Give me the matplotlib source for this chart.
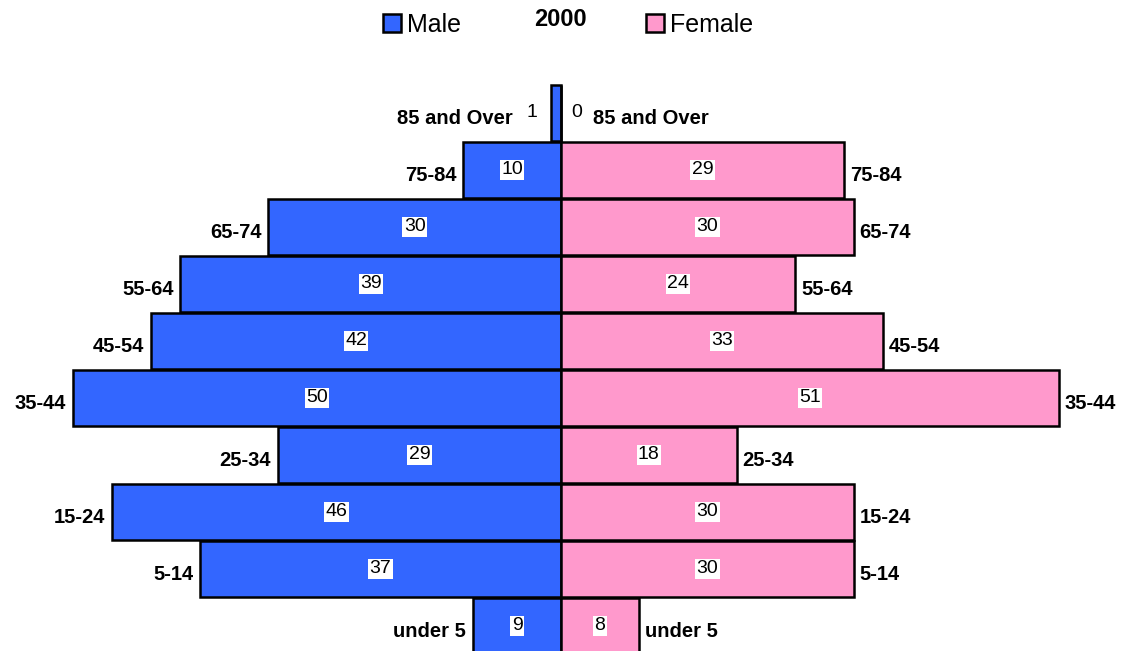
import numpy as np
import matplotlib.pyplot as plt

# age groups, top row first
ages = ['85 and Over', '75-84', '65-74', '55-64', '45-54',
        '35-44', '25-34', '15-24', '5-14', 'under 5']
male = [1, 10, 30, 39, 42, 50, 29, 46, 37, 9]
female = [0, 29, 30, 24, 33, 51, 18, 30, 30, 8]
year = '2000'

plt.rcParams['font.family'] = ['Liberation Sans', 'DejaVu Sans']

fig = plt.figure(figsize=(11.27, 6.51), dpi=100)
ax = fig.add_axes([0, 0, 1, 1])

y = np.arange(len(ages))
bm = ax.barh(y, [-v for v in male], height=0.97, color='#3366FF',
             edgecolor='black', linewidth=1.8, label='Male')
bf = ax.barh(y, female, height=0.97, color='#FF99CC',
             edgecolor='black', linewidth=1.8, label='Female')

box = dict(facecolor='white', edgecolor='none', pad=1.0)
vfs = 14
cfs = 14.5
for i in range(len(ages)):
    m, f = male[i], female[i]
    # male side
    if m >= 4:
        ax.text(-m / 2, i, str(m), ha='center', va='center', fontsize=vfs, bbox=box)
        ax.text(-m - 0.7, i + 0.09, ages[i], ha='right', va='center',
                fontsize=cfs, fontweight='bold')
    else:
        ax.text(-m - 2.0, i, str(m), ha='center', va='center', fontsize=vfs)
        ax.text(-m - 3.9, i + 0.09, ages[i], ha='right', va='center',
                fontsize=cfs, fontweight='bold')
    # female side
    if f >= 4:
        ax.text(f / 2, i, str(f), ha='center', va='center', fontsize=vfs, bbox=box)
        ax.text(f + 0.6, i + 0.09, ages[i], ha='left', va='center',
                fontsize=cfs, fontweight='bold')
    else:
        ax.text(f + 1.6, i, str(f), ha='center', va='center', fontsize=vfs)
        ax.text(f + 3.3, i + 0.09, ages[i], ha='left', va='center',
                fontsize=cfs, fontweight='bold')

ax.set_xlim(-57.48, 57.99)
ax.set_ylim(9.44, -1.98)
ax.axis('off')

fig.text(0.497, 0.97, year, ha='center', va='center', fontsize=17, fontweight='bold')
leg = fig.legend(handles=[bm, bf], loc='center', bbox_to_anchor=(0.504, 0.962),
                 ncol=2, frameon=False, fontsize=18, handlelength=0.72,
                 handleheight=0.72, handletextpad=0.25, columnspacing=7.4,
                 borderpad=0)

fig.savefig('out.png', dpi=100)
